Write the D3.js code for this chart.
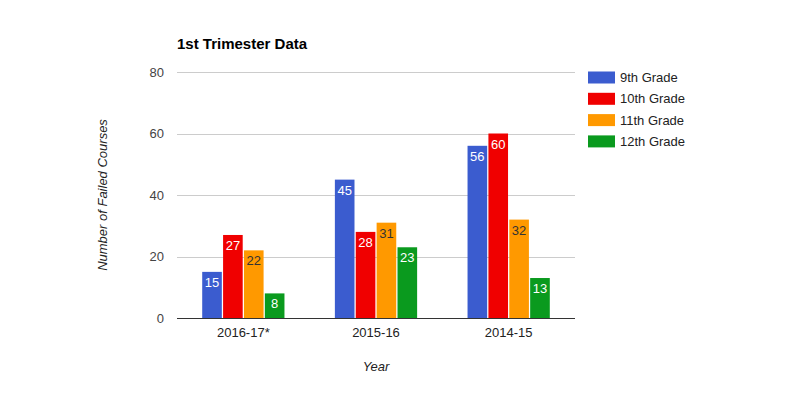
<!DOCTYPE html>
<html><head><meta charset="utf-8">
<script src="https://cdn.jsdelivr.net/npm/d3@7"></script>
<style>body{margin:0;background:#fff}svg{display:block;font-family:"Liberation Sans",Arial,sans-serif}</style>
</head><body><svg id="c" width="800" height="394"></svg>
<script>
const categories = ["2016-17*", "2015-16", "2014-15"];
const seriesNames = ["9th Grade", "10th Grade", "11th Grade", "12th Grade"];
const grade9 = [15, 45, 56];
const grade10 = [27, 28, 60];
const grade11 = [22, 31, 32];
const grade12 = [8, 23, 13];
const yTicks = [0, 20, 40, 60, 80];
const colors = ["#3b5ccf", "#f00000", "#ff9900", "#0a9a1e"];
const labelColors = ["#ffffff", "#ffffff", "#333333", "#ffffff"];
const series = [grade9, grade10, grade11, grade12];

const svg = d3.select("#c");
const pLeft = 177, pRight = 575, pTop = 72, pBottom = 318;
const x = d3.scaleBand().domain(categories).range([pLeft, pRight]).paddingInner(0.38).paddingOuter(0.19);
const xi = d3.scaleBand().domain(d3.range(4)).range([0, x.bandwidth()]).paddingInner(0.06);
const y = d3.scaleLinear().domain([0, 80]).range([pBottom, pTop]);

// gridlines
svg.append("g").selectAll("line").data(yTicks.filter(d => d > 0)).join("line")
  .attr("x1", pLeft).attr("x2", pRight)
  .attr("y1", d => Math.round(y(d)) + 0.5).attr("y2", d => Math.round(y(d)) + 0.5)
  .attr("stroke", "#cccccc").attr("stroke-width", 1);

// y tick labels
svg.append("g").selectAll("text").data(yTicks).join("text")
  .attr("x", 164).attr("y", d => y(d)).attr("dy", "0.35em")
  .attr("text-anchor", "end").attr("font-size", 13).attr("fill", "#444")
  .text(d => d);

// bars
const groups = svg.append("g").selectAll("g").data(categories).join("g")
  .attr("transform", c => `translate(${x(c)},0)`);
groups.each(function(c, ci) {
  const g = d3.select(this);
  series.forEach((s, si) => {
    const v = s[ci];
    g.append("rect")
      .attr("x", xi(si)).attr("width", xi.bandwidth())
      .attr("y", y(v)).attr("height", y(0) - y(v))
      .attr("fill", colors[si]);
    g.append("text")
      .attr("x", xi(si) + xi.bandwidth() / 2).attr("y", y(v) + 15)
      .attr("text-anchor", "middle").attr("font-size", 13)
      .attr("fill", labelColors[si]).text(v);
  });
});

// baseline
svg.append("line").attr("x1", pLeft).attr("x2", pRight)
  .attr("y1", Math.round(y(0)) + 0.5).attr("y2", Math.round(y(0)) + 0.5)
  .attr("stroke", "#333").attr("stroke-width", 1);

// x labels
svg.append("g").selectAll("text").data(categories).join("text")
  .attr("x", c => x(c) + x.bandwidth() / 2).attr("y", 337)
  .attr("text-anchor", "middle").attr("font-size", 13).attr("fill", "#222")
  .text(c => c);

// title
svg.append("text").attr("x", 177).attr("y", 49).attr("font-size", 15)
  .attr("font-weight", "bold").attr("fill", "#000").text("1st Trimester Data");

// axis titles
svg.append("text").attr("x", 376).attr("y", 371).attr("text-anchor", "middle")
  .attr("font-size", 13).attr("font-style", "italic").attr("fill", "#222").text("Year");
svg.append("text").attr("transform", "translate(107,195) rotate(-90)")
  .attr("text-anchor", "middle").attr("font-size", 13).attr("font-style", "italic")
  .attr("fill", "#222").text("Number of Failed Courses");

// legend
const lg = svg.append("g").selectAll("g").data(seriesNames).join("g")
  .attr("transform", (d, i) => `translate(588,${71.5 + i * 21.3})`);
lg.append("rect").attr("width", 27).attr("height", 12).attr("fill", (d, i) => colors[i]);
lg.append("text").attr("x", 32).attr("y", 6).attr("dy", "0.35em")
  .attr("font-size", 13).attr("fill", "#222").text(d => d);
</script></body></html>
